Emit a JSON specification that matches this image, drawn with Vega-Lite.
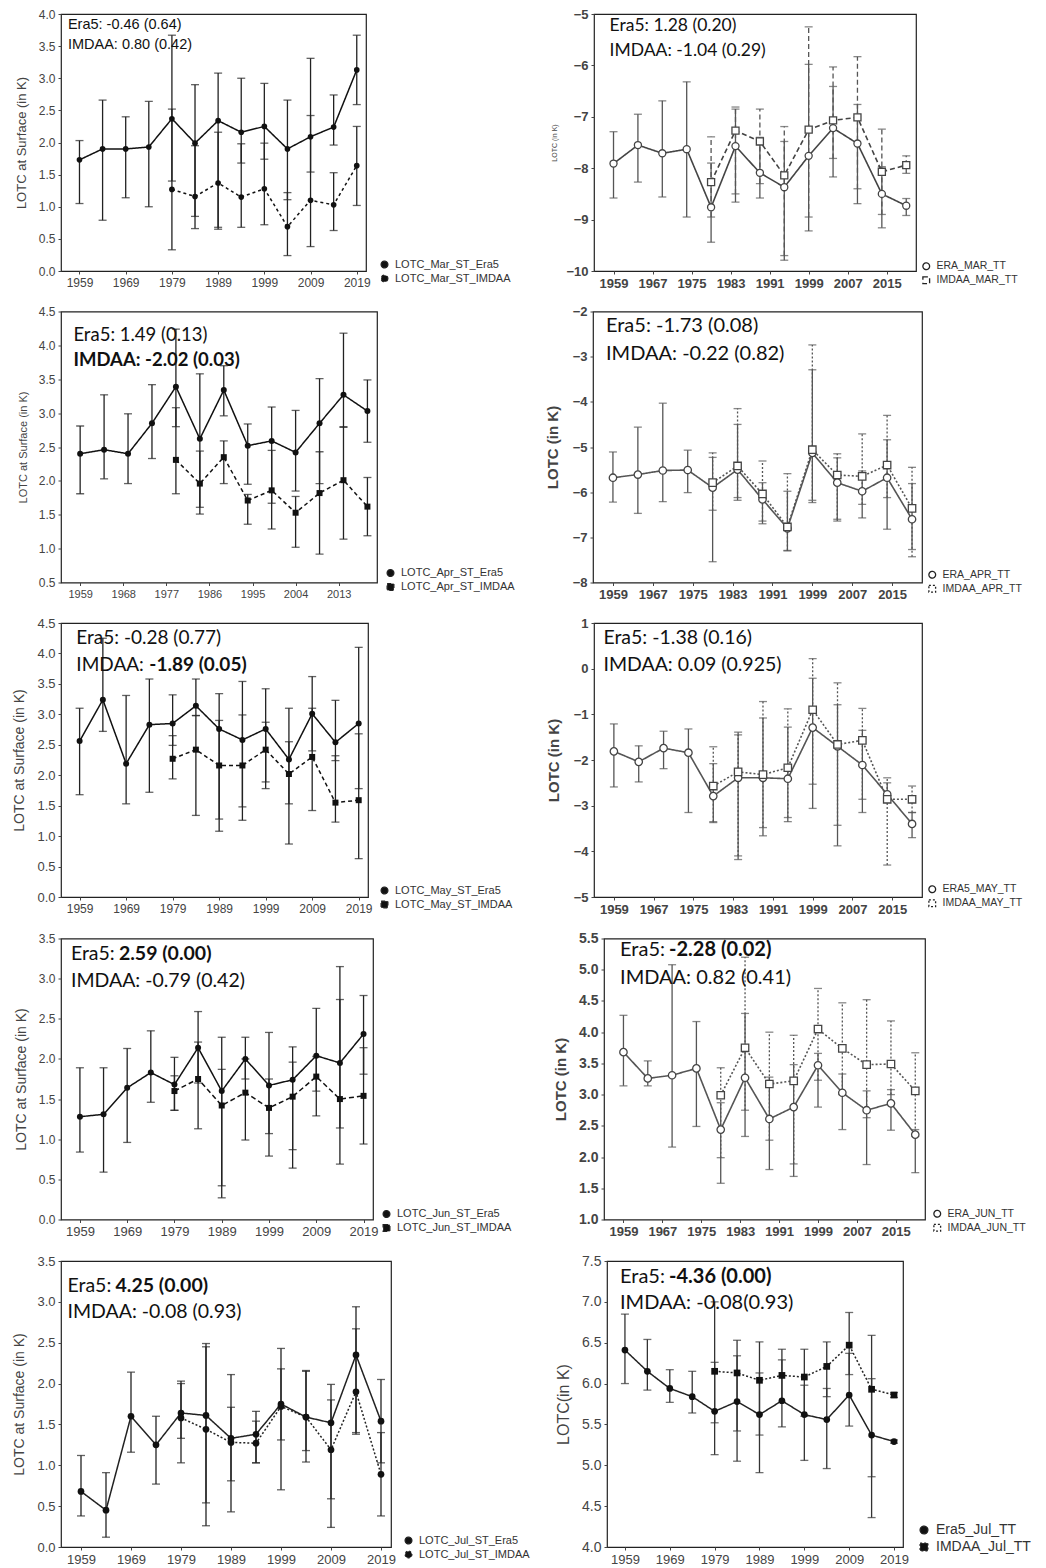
{
"$schema":"https://vega.github.io/schema/vega-lite/v6.json",
"background":"white",
"padding":{"left":12,"top":7,"right":0,"bottom":0},
"spacing":13.5,
"resolve":{"scale":{"strokeDash":"independent","shape":"independent"},"legend":{"strokeDash":"independent","shape":"independent"}},
"config":{
"view":{"stroke":"#222","strokeWidth":1.2},
"axis":{"grid":false,"domain":false,"ticks":true,"tickSize":3,"tickColor":"#444","labelFont":"Liberation Sans","labelFontSize":12,"labelColor":"#444","titleFont":"Liberation Sans","titleFontSize":13,"titleColor":"#444","titleFontWeight":"normal","labelPadding":3,"titlePadding":10},
"legend":{"labelFont":"Liberation Sans","labelFontSize":11,"labelColor":"#333","symbolSize":45,"symbolStrokeWidth":1.3,"symbolStrokeColor":"#222","rowPadding":1,"labelOffset":5,"padding":0}
},
"datasets":{
"MarST":[
{"yr":1959,"s":"Era5","m":1.73,"lo":1.05,"hi":2.03},{"yr":1964,"s":"Era5","m":1.90,"lo":0.79,"hi":2.66},{"yr":1969,"s":"Era5","m":1.90,"lo":1.14,"hi":2.40},{"yr":1974,"s":"Era5","m":1.93,"lo":1.00,"hi":2.64},{"yr":1979,"s":"Era5","m":2.37,"lo":1.40,"hi":3.67},{"yr":1984,"s":"Era5","m":1.99,"lo":0.85,"hi":2.90},{"yr":1989,"s":"Era5","m":2.34,"lo":0.65,"hi":3.08},{"yr":1994,"s":"Era5","m":2.16,"lo":1.68,"hi":3.00},{"yr":1999,"s":"Era5","m":2.25,"lo":1.74,"hi":2.92},{"yr":2004,"s":"Era5","m":1.90,"lo":1.11,"hi":2.66},{"yr":2009,"s":"Era5","m":2.09,"lo":1.54,"hi":3.31},{"yr":2014,"s":"Era5","m":2.24,"lo":1.96,"hi":2.74},{"yr":2019,"s":"Era5","m":3.13,"lo":2.59,"hi":3.67},
{"yr":1979,"s":"IMDAA","m":1.27,"lo":0.33,"hi":2.52},{"yr":1984,"s":"IMDAA","m":1.16,"lo":0.66,"hi":1.95},{"yr":1989,"s":"IMDAA","m":1.37,"lo":0.68,"hi":2.16},{"yr":1994,"s":"IMDAA","m":1.15,"lo":0.68,"hi":1.98},{"yr":1999,"s":"IMDAA","m":1.28,"lo":0.72,"hi":1.99},{"yr":2004,"s":"IMDAA","m":0.69,"lo":0.24,"hi":1.22},{"yr":2009,"s":"IMDAA","m":1.10,"lo":0.38,"hi":2.42},{"yr":2014,"s":"IMDAA","m":1.03,"lo":0.63,"hi":1.53},{"yr":2019,"s":"IMDAA","m":1.64,"lo":1.02,"hi":2.25}],
"MarTT":[
{"yr":1959,"s":"Era5","m":-7.91,"lo":-8.58,"hi":-7.29},{"yr":1964,"s":"Era5","m":-7.55,"lo":-8.27,"hi":-6.95},{"yr":1969,"s":"Era5","m":-7.71,"lo":-8.56,"hi":-6.69},{"yr":1974,"s":"Era5","m":-7.63,"lo":-8.95,"hi":-6.32},{"yr":1979,"s":"Era5","m":-8.76,"lo":-9.44,"hi":-7.90},{"yr":1984,"s":"Era5","m":-7.57,"lo":-8.66,"hi":-6.85},{"yr":1989,"s":"Era5","m":-8.09,"lo":-8.58,"hi":-7.40},{"yr":1994,"s":"Era5","m":-8.37,"lo":-9.79,"hi":-7.48},{"yr":1999,"s":"Era5","m":-7.76,"lo":-9.22,"hi":-5.98},{"yr":2004,"s":"Era5","m":-7.22,"lo":-8.17,"hi":-6.41},{"yr":2009,"s":"Era5","m":-7.52,"lo":-8.69,"hi":-6.76},{"yr":2014,"s":"Era5","m":-8.50,"lo":-9.16,"hi":-7.97},{"yr":2019,"s":"Era5","m":-8.73,"lo":-8.92,"hi":-8.59},
{"yr":1979,"s":"IMDAA","m":-8.27,"lo":-8.95,"hi":-7.39},{"yr":1984,"s":"IMDAA","m":-7.27,"lo":-8.50,"hi":-6.81},{"yr":1989,"s":"IMDAA","m":-7.48,"lo":-8.30,"hi":-6.85},{"yr":1994,"s":"IMDAA","m":-8.14,"lo":-9.70,"hi":-7.19},{"yr":1999,"s":"IMDAA","m":-7.25,"lo":-8.95,"hi":-5.25},{"yr":2004,"s":"IMDAA","m":-7.07,"lo":-7.81,"hi":-6.03},{"yr":2009,"s":"IMDAA","m":-7.01,"lo":-8.40,"hi":-5.83},{"yr":2014,"s":"IMDAA","m":-8.07,"lo":-8.90,"hi":-7.24},{"yr":2019,"s":"IMDAA","m":-7.94,"lo":-8.10,"hi":-7.76}],
"AprST":[
{"yr":1959,"s":"Era5","m":2.40,"lo":1.81,"hi":2.81},{"yr":1964,"s":"Era5","m":2.46,"lo":2.03,"hi":3.27},{"yr":1969,"s":"Era5","m":2.40,"lo":1.96,"hi":2.99},{"yr":1974,"s":"Era5","m":2.85,"lo":2.33,"hi":3.42},{"yr":1979,"s":"Era5","m":3.39,"lo":2.80,"hi":4.24},{"yr":1984,"s":"Era5","m":2.62,"lo":1.61,"hi":3.58},{"yr":1989,"s":"Era5","m":3.34,"lo":2.96,"hi":3.70},{"yr":1994,"s":"Era5","m":2.52,"lo":1.95,"hi":2.84},{"yr":1999,"s":"Era5","m":2.59,"lo":1.67,"hi":3.09},{"yr":2004,"s":"Era5","m":2.42,"lo":1.85,"hi":3.04},{"yr":2009,"s":"Era5","m":2.85,"lo":1.96,"hi":3.51},{"yr":2014,"s":"Era5","m":3.27,"lo":2.79,"hi":4.18},{"yr":2019,"s":"Era5","m":3.03,"lo":2.57,"hi":3.49},
{"yr":1979,"s":"IMDAA","m":2.31,"lo":1.81,"hi":3.08},{"yr":1984,"s":"IMDAA","m":1.96,"lo":1.51,"hi":2.44},{"yr":1989,"s":"IMDAA","m":2.35,"lo":1.96,"hi":2.59},{"yr":1994,"s":"IMDAA","m":1.71,"lo":1.36,"hi":1.80},{"yr":1999,"s":"IMDAA","m":1.86,"lo":1.29,"hi":2.45},{"yr":2004,"s":"IMDAA","m":1.53,"lo":1.02,"hi":1.77},{"yr":2009,"s":"IMDAA","m":1.82,"lo":0.92,"hi":2.43},{"yr":2014,"s":"IMDAA","m":2.01,"lo":1.14,"hi":2.80},{"yr":2019,"s":"IMDAA","m":1.62,"lo":1.19,"hi":2.05}],
"AprTT":[
{"yr":1959,"s":"Era5","m":-5.68,"lo":-6.22,"hi":-5.11},{"yr":1964,"s":"Era5","m":-5.61,"lo":-6.47,"hi":-4.56},{"yr":1969,"s":"Era5","m":-5.52,"lo":-6.21,"hi":-4.03},{"yr":1974,"s":"Era5","m":-5.51,"lo":-6.01,"hi":-5.07},{"yr":1979,"s":"Era5","m":-5.90,"lo":-7.54,"hi":-5.23},{"yr":1984,"s":"Era5","m":-5.50,"lo":-6.18,"hi":-4.50},{"yr":1989,"s":"Era5","m":-6.16,"lo":-6.70,"hi":-5.79},{"yr":1994,"s":"Era5","m":-6.80,"lo":-7.30,"hi":-5.98},{"yr":1999,"s":"Era5","m":-5.13,"lo":-6.18,"hi":-3.29},{"yr":2004,"s":"Era5","m":-5.79,"lo":-6.64,"hi":-5.24},{"yr":2009,"s":"Era5","m":-5.98,"lo":-6.57,"hi":-5.53},{"yr":2014,"s":"Era5","m":-5.68,"lo":-6.82,"hi":-4.84},{"yr":2019,"s":"Era5","m":-6.60,"lo":-7.27,"hi":-5.81},
{"yr":1979,"s":"IMDAA","m":-5.79,"lo":-6.40,"hi":-5.13},{"yr":1984,"s":"IMDAA","m":-5.42,"lo":-6.12,"hi":-4.15},{"yr":1989,"s":"IMDAA","m":-6.04,"lo":-6.64,"hi":-5.31},{"yr":1994,"s":"IMDAA","m":-6.77,"lo":-7.29,"hi":-5.59},{"yr":1999,"s":"IMDAA","m":-5.06,"lo":-6.23,"hi":-2.74},{"yr":2004,"s":"IMDAA","m":-5.62,"lo":-6.60,"hi":-5.15},{"yr":2009,"s":"IMDAA","m":-5.65,"lo":-6.27,"hi":-4.71},{"yr":2014,"s":"IMDAA","m":-5.40,"lo":-6.12,"hi":-4.30},{"yr":2019,"s":"IMDAA","m":-6.36,"lo":-7.43,"hi":-5.45}],
"MayST":[
{"yr":1959,"s":"Era5","m":2.56,"lo":1.68,"hi":3.10},{"yr":1964,"s":"Era5","m":3.24,"lo":2.72,"hi":4.25},{"yr":1969,"s":"Era5","m":2.19,"lo":1.53,"hi":3.31},{"yr":1974,"s":"Era5","m":2.83,"lo":1.72,"hi":3.58},{"yr":1979,"s":"Era5","m":2.85,"lo":2.49,"hi":3.32},{"yr":1984,"s":"Era5","m":3.14,"lo":2.98,"hi":3.58},{"yr":1989,"s":"Era5","m":2.76,"lo":1.28,"hi":3.34},{"yr":1994,"s":"Era5","m":2.58,"lo":1.48,"hi":3.54},{"yr":1999,"s":"Era5","m":2.76,"lo":1.89,"hi":3.42},{"yr":2004,"s":"Era5","m":2.26,"lo":1.53,"hi":3.10},{"yr":2009,"s":"Era5","m":3.01,"lo":2.40,"hi":3.62},{"yr":2014,"s":"Era5","m":2.54,"lo":2.24,"hi":3.23},{"yr":2019,"s":"Era5","m":2.85,"lo":1.78,"hi":4.10},
{"yr":1979,"s":"IMDAA","m":2.27,"lo":1.94,"hi":2.65},{"yr":1984,"s":"IMDAA","m":2.42,"lo":1.34,"hi":2.98},{"yr":1989,"s":"IMDAA","m":2.16,"lo":1.08,"hi":2.90},{"yr":1994,"s":"IMDAA","m":2.16,"lo":1.26,"hi":2.99},{"yr":1999,"s":"IMDAA","m":2.42,"lo":1.78,"hi":2.87},{"yr":2004,"s":"IMDAA","m":2.02,"lo":0.87,"hi":2.55},{"yr":2009,"s":"IMDAA","m":2.30,"lo":1.42,"hi":3.10},{"yr":2014,"s":"IMDAA","m":1.55,"lo":1.23,"hi":2.32},{"yr":2019,"s":"IMDAA","m":1.59,"lo":0.63,"hi":2.68}],
"MayTT":[
{"yr":1959,"s":"Era5","m":-1.81,"lo":-2.59,"hi":-1.21},{"yr":1964,"s":"Era5","m":-2.04,"lo":-2.48,"hi":-1.69},{"yr":1969,"s":"Era5","m":-1.74,"lo":-2.19,"hi":-1.37},{"yr":1974,"s":"Era5","m":-1.84,"lo":-3.15,"hi":-1.32},{"yr":1979,"s":"Era5","m":-2.79,"lo":-3.37,"hi":-2.08},{"yr":1984,"s":"Era5","m":-2.39,"lo":-4.18,"hi":-1.39},{"yr":1989,"s":"Era5","m":-2.39,"lo":-3.66,"hi":-1.08},{"yr":1994,"s":"Era5","m":-2.41,"lo":-3.35,"hi":-1.28},{"yr":1999,"s":"Era5","m":-1.29,"lo":-3.06,"hi":-0.21},{"yr":2004,"s":"Era5","m":-1.70,"lo":-3.88,"hi":-0.79},{"yr":2009,"s":"Era5","m":-2.11,"lo":-3.15,"hi":-1.35},{"yr":2014,"s":"Era5","m":-2.75,"lo":-2.86,"hi":-2.50},{"yr":2019,"s":"Era5","m":-3.40,"lo":-3.70,"hi":-3.15},
{"yr":1979,"s":"IMDAA","m":-2.57,"lo":-3.35,"hi":-1.71},{"yr":1984,"s":"IMDAA","m":-2.26,"lo":-4.10,"hi":-1.45},{"yr":1989,"s":"IMDAA","m":-2.32,"lo":-3.48,"hi":-0.72},{"yr":1994,"s":"IMDAA","m":-2.17,"lo":-3.26,"hi":-0.88},{"yr":1999,"s":"IMDAA","m":-0.90,"lo":-2.53,"hi":0.22},{"yr":2004,"s":"IMDAA","m":-1.66,"lo":-3.43,"hi":-0.31},{"yr":2009,"s":"IMDAA","m":-1.57,"lo":-2.86,"hi":-0.87},{"yr":2014,"s":"IMDAA","m":-2.86,"lo":-4.30,"hi":-2.39},{"yr":2019,"s":"IMDAA","m":-2.86,"lo":-3.15,"hi":-2.57}],
"JunST":[
{"yr":1959,"s":"Era5","m":1.28,"lo":0.84,"hi":1.89},{"yr":1964,"s":"Era5","m":1.31,"lo":0.59,"hi":1.89},{"yr":1969,"s":"Era5","m":1.64,"lo":0.96,"hi":2.13},{"yr":1974,"s":"Era5","m":1.83,"lo":1.46,"hi":2.35},{"yr":1979,"s":"Era5","m":1.68,"lo":1.36,"hi":2.02},{"yr":1984,"s":"Era5","m":2.14,"lo":1.70,"hi":2.59},{"yr":1989,"s":"Era5","m":1.60,"lo":0.42,"hi":2.27},{"yr":1994,"s":"Era5","m":2.00,"lo":1.75,"hi":2.27},{"yr":1999,"s":"Era5","m":1.67,"lo":1.07,"hi":2.33},{"yr":2004,"s":"Era5","m":1.74,"lo":0.87,"hi":2.15},{"yr":2009,"s":"Era5","m":2.04,"lo":1.60,"hi":2.63},{"yr":2014,"s":"Era5","m":1.95,"lo":1.14,"hi":3.15},{"yr":2019,"s":"Era5","m":2.31,"lo":1.81,"hi":2.79},
{"yr":1979,"s":"IMDAA","m":1.60,"lo":1.36,"hi":1.79},{"yr":1984,"s":"IMDAA","m":1.75,"lo":1.13,"hi":2.21},{"yr":1989,"s":"IMDAA","m":1.42,"lo":0.27,"hi":1.87},{"yr":1994,"s":"IMDAA","m":1.58,"lo":0.99,"hi":2.00},{"yr":1999,"s":"IMDAA","m":1.39,"lo":0.79,"hi":1.75},{"yr":2004,"s":"IMDAA","m":1.53,"lo":0.64,"hi":1.96},{"yr":2009,"s":"IMDAA","m":1.78,"lo":1.29,"hi":2.03},{"yr":2014,"s":"IMDAA","m":1.50,"lo":0.69,"hi":2.74},{"yr":2019,"s":"IMDAA","m":1.54,"lo":0.94,"hi":2.14}],
"JunTT":[
{"yr":1959,"s":"Era5","m":3.68,"lo":3.14,"hi":4.27},{"yr":1964,"s":"Era5","m":3.26,"lo":3.14,"hi":3.54},{"yr":1969,"s":"Era5","m":3.31,"lo":2.16,"hi":5.08},{"yr":1974,"s":"Era5","m":3.42,"lo":2.49,"hi":4.17},{"yr":1979,"s":"Era5","m":2.44,"lo":1.58,"hi":2.87},{"yr":1984,"s":"Era5","m":3.27,"lo":2.33,"hi":4.30},{"yr":1989,"s":"Era5","m":2.61,"lo":1.80,"hi":3.28},{"yr":1994,"s":"Era5","m":2.80,"lo":1.69,"hi":3.48},{"yr":1999,"s":"Era5","m":3.47,"lo":2.80,"hi":3.66},{"yr":2004,"s":"Era5","m":3.03,"lo":2.44,"hi":3.33},{"yr":2009,"s":"Era5","m":2.75,"lo":1.88,"hi":3.06},{"yr":2014,"s":"Era5","m":2.86,"lo":2.43,"hi":3.08},{"yr":2019,"s":"Era5","m":2.36,"lo":1.75,"hi":2.44},
{"yr":1979,"s":"IMDAA","m":2.99,"lo":1.99,"hi":3.43},{"yr":1984,"s":"IMDAA","m":3.75,"lo":2.75,"hi":5.20},{"yr":1989,"s":"IMDAA","m":3.17,"lo":2.27,"hi":4.00},{"yr":1994,"s":"IMDAA","m":3.22,"lo":1.89,"hi":3.95},{"yr":1999,"s":"IMDAA","m":4.05,"lo":3.23,"hi":4.70},{"yr":2004,"s":"IMDAA","m":3.74,"lo":3.00,"hi":4.47},{"yr":2009,"s":"IMDAA","m":3.48,"lo":2.63,"hi":4.52},{"yr":2014,"s":"IMDAA","m":3.49,"lo":3.00,"hi":4.18},{"yr":2019,"s":"IMDAA","m":3.06,"lo":2.33,"hi":3.67}],
"JulST":[
{"yr":1959,"s":"Era5","m":0.68,"lo":0.38,"hi":1.12},{"yr":1964,"s":"Era5","m":0.45,"lo":0.12,"hi":0.91},{"yr":1969,"s":"Era5","m":1.60,"lo":1.16,"hi":2.14},{"yr":1974,"s":"Era5","m":1.25,"lo":0.77,"hi":1.60},{"yr":1979,"s":"Era5","m":1.64,"lo":1.33,"hi":2.03},{"yr":1984,"s":"Era5","m":1.61,"lo":0.54,"hi":2.49},{"yr":1989,"s":"Era5","m":1.33,"lo":0.81,"hi":2.11},{"yr":1994,"s":"Era5","m":1.38,"lo":1.03,"hi":1.66},{"yr":1999,"s":"Era5","m":1.75,"lo":0.70,"hi":2.43},{"yr":2004,"s":"Era5","m":1.59,"lo":1.04,"hi":2.16},{"yr":2009,"s":"Era5","m":1.52,"lo":0.59,"hi":1.99},{"yr":2014,"s":"Era5","m":2.35,"lo":1.38,"hi":2.94},{"yr":2019,"s":"Era5","m":1.54,"lo":1.03,"hi":2.05},
{"yr":1979,"s":"IMDAA","m":1.58,"lo":1.03,"hi":2.00},{"yr":1984,"s":"IMDAA","m":1.44,"lo":0.26,"hi":2.45},{"yr":1989,"s":"IMDAA","m":1.28,"lo":0.43,"hi":1.71},{"yr":1994,"s":"IMDAA","m":1.27,"lo":1.03,"hi":1.54},{"yr":1999,"s":"IMDAA","m":1.72,"lo":1.31,"hi":2.18},{"yr":2004,"s":"IMDAA","m":1.59,"lo":1.18,"hi":2.15},{"yr":2009,"s":"IMDAA","m":1.19,"lo":0.24,"hi":1.80},{"yr":2014,"s":"IMDAA","m":1.90,"lo":1.40,"hi":2.67},{"yr":2019,"s":"IMDAA","m":0.89,"lo":0.38,"hi":1.40}],
"JulTT":[
{"yr":1959,"s":"Era5","m":6.41,"lo":6.00,"hi":6.85},{"yr":1964,"s":"Era5","m":6.15,"lo":5.92,"hi":6.54},{"yr":1969,"s":"Era5","m":5.94,"lo":5.77,"hi":6.17},{"yr":1974,"s":"Era5","m":5.84,"lo":5.64,"hi":6.15},{"yr":1979,"s":"Era5","m":5.66,"lo":5.13,"hi":6.26},{"yr":1984,"s":"Era5","m":5.78,"lo":5.05,"hi":6.34},{"yr":1989,"s":"Era5","m":5.62,"lo":4.91,"hi":6.13},{"yr":1994,"s":"Era5","m":5.79,"lo":5.47,"hi":6.29},{"yr":1999,"s":"Era5","m":5.62,"lo":5.06,"hi":5.98},{"yr":2004,"s":"Era5","m":5.56,"lo":4.96,"hi":5.94},{"yr":2009,"s":"Era5","m":5.86,"lo":5.48,"hi":6.37},{"yr":2014,"s":"Era5","m":5.37,"lo":4.36,"hi":6.06},{"yr":2019,"s":"Era5","m":5.29,"lo":5.27,"hi":5.31},
{"yr":1979,"s":"IMDAA","m":6.15,"lo":5.52,"hi":7.00},{"yr":1984,"s":"IMDAA","m":6.13,"lo":5.42,"hi":6.53},{"yr":1989,"s":"IMDAA","m":6.04,"lo":5.37,"hi":6.51},{"yr":1994,"s":"IMDAA","m":6.10,"lo":5.77,"hi":6.42},{"yr":1999,"s":"IMDAA","m":6.08,"lo":5.60,"hi":6.42},{"yr":2004,"s":"IMDAA","m":6.21,"lo":5.84,"hi":6.51},{"yr":2009,"s":"IMDAA","m":6.47,"lo":6.11,"hi":6.87},{"yr":2014,"s":"IMDAA","m":5.93,"lo":4.86,"hi":6.59},{"yr":2019,"s":"IMDAA","m":5.86,"lo":5.83,"hi":5.89}]
},
"vconcat":[
{"bounds":"flush","spacing":228,"resolve":{"scale":{"strokeDash":"independent","shape":"independent"},"legend":{"strokeDash":"independent","shape":"independent"}},"hconcat":[
{"width":305,"height":257,"data":{"name":"MarST"},
"encoding":{"x":{"field":"yr","type":"quantitative","title":null,"scale":{"domain":[1955,2021],"nice":false,"zero":false},"axis":{"values":[1959,1969,1979,1989,1999,2009,2019],"format":"d"}},
"y":{"field":"m","type":"quantitative","title":"LOTC at Surface (in K)","scale":{"domain":[0,4],"nice":false,"zero":false},"axis":{"values":[0,0.5,1,1.5,2,2.5,3,3.5,4],"format":".1f"}}},
"layer":[
{"mark":{"type":"rule","color":"#222","strokeWidth":1.3},"encoding":{"y":{"field":"lo","type":"quantitative","title":"LOTC at Surface (in K)"},"y2":{"field":"hi"}}},
{"mark":{"type":"tick","orient":"horizontal","size":8,"thickness":1.3,"color":"#222"},"encoding":{"y":{"field":"lo","type":"quantitative","title":"LOTC at Surface (in K)"}}},
{"mark":{"type":"tick","orient":"horizontal","size":8,"thickness":1.3,"color":"#222"},"encoding":{"y":{"field":"hi","type":"quantitative","title":"LOTC at Surface (in K)"}}},
{"mark":{"type":"line","color":"#111","strokeWidth":1.5},"encoding":{"strokeDash":{"field":"s","type":"nominal","title":null,"scale":{"domain":["Era5","IMDAA"],"range":[[1,0],[3,3]]},"legend":{"orient":"none","legendX":318,"legendY":245,"symbolFillColor":"#111","labelExpr":"datum.label=='Era5'?'LOTC_Mar_ST_Era5':'LOTC_Mar_ST_IMDAA'"}}}},
{"mark":{"type":"point","filled":true,"color":"#111","size":32,"opacity":1},"encoding":{"shape":{"field":"s","type":"nominal","scale":{"domain":["Era5","IMDAA"],"range":["circle","circle"]},"legend":null}}},
{"transform":[{"filter":"datum.yr==1959 && datum.s=='Era5'"}],"mark":{"type":"text","align":"left","baseline":"middle","font":"Liberation Sans","fontSize":14.5,"color":"#111"},"encoding":{"x":{"datum":1956.5,"type":"quantitative"},"y":{"datum":3.83,"type":"quantitative"},"text":{"value":"Era5: -0.46 (0.64)"}}},
{"transform":[{"filter":"datum.yr==1959 && datum.s=='Era5'"}],"mark":{"type":"text","align":"left","baseline":"middle","font":"Liberation Sans","fontSize":14.5,"color":"#111"},"encoding":{"x":{"datum":1956.5,"type":"quantitative"},"y":{"datum":3.51,"type":"quantitative"},"text":{"value":"IMDAA: 0.80 (0.42)"}}}
]},
{"width":322,"height":257,"data":{"name":"MarTT"},
"encoding":{"x":{"field":"yr","type":"quantitative","title":null,"scale":{"domain":[1955,2021],"nice":false,"zero":false},"axis":{"values":[1959,1967,1975,1983,1991,1999,2007,2015],"format":"d","labelFontSize":13,"labelFontWeight":"bold"}},
"y":{"field":"m","type":"quantitative","title":"LOTC (in K)","scale":{"domain":[-10,-5],"nice":false,"zero":false},"axis":{"values":[-10,-9,-8,-7,-6,-5],"format":"d","labelFontSize":13,"labelFontWeight":"bold","titleFontSize":7,"titlePadding":8}}},
"layer":[
{"mark":{"type":"rule","color":"#555","strokeWidth":1.3},"encoding":{"y":{"field":"lo","type":"quantitative","title":"LOTC (in K)"},"y2":{"field":"hi"},"strokeDash":{"field":"s","type":"nominal","title":null}}},
{"mark":{"type":"tick","orient":"horizontal","size":8,"thickness":1.3,"color":"#555"},"encoding":{"y":{"field":"lo","type":"quantitative","title":"LOTC (in K)"}}},
{"mark":{"type":"tick","orient":"horizontal","size":8,"thickness":1.3,"color":"#555"},"encoding":{"y":{"field":"hi","type":"quantitative","title":"LOTC (in K)"}}},
{"mark":{"type":"line","color":"#444","strokeWidth":1.6},"encoding":{"strokeDash":{"field":"s","type":"nominal","title":null,"scale":{"domain":["Era5","IMDAA"],"range":[[1,0],[5,3]]},"legend":{"orient":"none","legendX":327,"legendY":247,"labelFontSize":10.5,"symbolFillColor":"white","labelExpr":"datum.label=='Era5'?'ERA_MAR_TT':'IMDAA_MAR_TT'"}}}},
{"mark":{"type":"point","filled":true,"fill":"white","stroke":"#444","strokeWidth":1.3,"size":50,"opacity":1},"encoding":{"shape":{"field":"s","type":"nominal","scale":{"domain":["Era5","IMDAA"],"range":["circle","square"]},"legend":null}}},
{"transform":[{"filter":"datum.yr==1959 && datum.s=='Era5'"}],"mark":{"type":"text","align":"left","baseline":"middle","font":"Lato","fontSize":17.5,"color":"#111"},"encoding":{"x":{"datum":1958.2,"type":"quantitative"},"y":{"datum":-5.24,"type":"quantitative"},"text":{"value":"Era5: 1.28 (0.20)"}}},
{"transform":[{"filter":"datum.yr==1959 && datum.s=='Era5'"}],"mark":{"type":"text","align":"left","baseline":"middle","font":"Lato","fontSize":17.5,"color":"#111"},"encoding":{"x":{"datum":1958.2,"type":"quantitative"},"y":{"datum":-5.72,"type":"quantitative"},"text":{"value":"IMDAA: -1.04 (0.29)"}}}
]}
]},
{"bounds":"flush","spacing":216,"resolve":{"scale":{"strokeDash":"independent","shape":"independent"},"legend":{"strokeDash":"independent","shape":"independent"}},"hconcat":[
{"width":316,"height":271,"data":{"name":"AprST"},
"encoding":{"x":{"field":"yr","type":"quantitative","title":null,"scale":{"domain":[1955,2021],"nice":false,"zero":false},"axis":{"values":[1959,1968,1977,1986,1995,2004,2013],"format":"d","labelFontSize":11}},
"y":{"field":"m","type":"quantitative","title":"LOTC at Surface (in K)","scale":{"domain":[0.5,4.5],"nice":false,"zero":false},"axis":{"values":[0.5,1,1.5,2,2.5,3,3.5,4,4.5],"format":".1f","titleFontSize":11}}},
"layer":[
{"mark":{"type":"rule","color":"#222","strokeWidth":1.3},"encoding":{"y":{"field":"lo","type":"quantitative","title":"LOTC at Surface (in K)"},"y2":{"field":"hi"}}},
{"mark":{"type":"tick","orient":"horizontal","size":8,"thickness":1.3,"color":"#222"},"encoding":{"y":{"field":"lo","type":"quantitative","title":"LOTC at Surface (in K)"}}},
{"mark":{"type":"tick","orient":"horizontal","size":8,"thickness":1.3,"color":"#222"},"encoding":{"y":{"field":"hi","type":"quantitative","title":"LOTC at Surface (in K)"}}},
{"mark":{"type":"line","color":"#111","strokeWidth":1.5},"encoding":{"strokeDash":{"field":"s","type":"nominal","title":null,"scale":{"domain":["Era5","IMDAA"],"range":[[1,0],[4,3]]},"legend":{"orient":"none","legendX":324,"legendY":256,"symbolFillColor":"#111","labelExpr":"datum.label=='Era5'?'LOTC_Apr_ST_Era5':'LOTC_Apr_ST_IMDAA'"}}}},
{"mark":{"type":"point","filled":true,"color":"#111","size":36,"opacity":1},"encoding":{"shape":{"field":"s","type":"nominal","scale":{"domain":["Era5","IMDAA"],"range":["circle","square"]},"legend":null}}},
{"transform":[{"filter":"datum.yr==1959 && datum.s=='Era5'"}],"mark":{"type":"text","align":"left","baseline":"middle","font":"Lato","fontSize":18.5,"color":"#111"},"encoding":{"x":{"datum":1957.6,"type":"quantitative"},"y":{"datum":4.16,"type":"quantitative"},"text":{"value":"Era5: 1.49 (0.13)"}}},
{"transform":[{"filter":"datum.yr==1959 && datum.s=='Era5'"}],"mark":{"type":"text","align":"left","baseline":"middle","font":"Lato","fontSize":18.5,"fontWeight":"bold","color":"#111"},"encoding":{"x":{"datum":1957.6,"type":"quantitative"},"y":{"datum":3.78,"type":"quantitative"},"text":{"value":"IMDAA: -2.02 (0.03)"}}}
]},
{"width":329,"height":271,"data":{"name":"AprTT"},
"encoding":{"x":{"field":"yr","type":"quantitative","title":null,"scale":{"domain":[1955,2021],"nice":false,"zero":false},"axis":{"values":[1959,1967,1975,1983,1991,1999,2007,2015],"format":"d","labelFontSize":13,"labelFontWeight":"bold"}},
"y":{"field":"m","type":"quantitative","title":"LOTC (in K)","scale":{"domain":[-8,-2],"nice":false,"zero":false},"axis":{"values":[-8,-7,-6,-5,-4,-3,-2],"format":"d","labelFontSize":13,"labelFontWeight":"bold","titleFontSize":15,"titleFontWeight":"bold","titlePadding":12}}},
"layer":[
{"mark":{"type":"rule","color":"#555","strokeWidth":1.3},"encoding":{"y":{"field":"lo","type":"quantitative","title":"LOTC (in K)"},"y2":{"field":"hi"},"strokeDash":{"field":"s","type":"nominal","title":null}}},
{"mark":{"type":"tick","orient":"horizontal","size":8,"thickness":1.3,"color":"#555"},"encoding":{"y":{"field":"lo","type":"quantitative","title":"LOTC (in K)"}}},
{"mark":{"type":"tick","orient":"horizontal","size":8,"thickness":1.3,"color":"#555"},"encoding":{"y":{"field":"hi","type":"quantitative","title":"LOTC (in K)"}}},
{"mark":{"type":"line","color":"#555","strokeWidth":1.6},"encoding":{"strokeDash":{"field":"s","type":"nominal","title":null,"scale":{"domain":["Era5","IMDAA"],"range":[[1,0],[2,2]]},"legend":{"orient":"none","legendX":334,"legendY":258,"labelFontSize":10.5,"symbolFillColor":"white","labelExpr":"datum.label=='Era5'?'ERA_APR_TT':'IMDAA_APR_TT'"}}}},
{"mark":{"type":"point","filled":true,"fill":"white","stroke":"#444","strokeWidth":1.3,"size":55,"opacity":1},"encoding":{"shape":{"field":"s","type":"nominal","scale":{"domain":["Era5","IMDAA"],"range":["circle","square"]},"legend":null}}},
{"transform":[{"filter":"datum.yr==1959 && datum.s=='Era5'"}],"mark":{"type":"text","align":"left","baseline":"middle","font":"Lato","fontSize":20,"color":"#111"},"encoding":{"x":{"datum":1957.6,"type":"quantitative"},"y":{"datum":-2.33,"type":"quantitative"},"text":{"value":"Era5: -1.73 (0.08)"}}},
{"transform":[{"filter":"datum.yr==1959 && datum.s=='Era5'"}],"mark":{"type":"text","align":"left","baseline":"middle","font":"Lato","fontSize":20,"color":"#111"},"encoding":{"x":{"datum":1957.6,"type":"quantitative"},"y":{"datum":-2.94,"type":"quantitative"},"text":{"value":"IMDAA: -0.22 (0.82)"}}}
]}
]},
{"bounds":"flush","spacing":226,"resolve":{"scale":{"strokeDash":"independent","shape":"independent"},"legend":{"strokeDash":"independent","shape":"independent"}},"hconcat":[
{"width":307,"height":274,"data":{"name":"MayST"},
"encoding":{"x":{"field":"yr","type":"quantitative","title":null,"scale":{"domain":[1955,2021],"nice":false,"zero":false},"axis":{"values":[1959,1969,1979,1989,1999,2009,2019],"format":"d"}},
"y":{"field":"m","type":"quantitative","title":"LOTC at Surface (in K)","scale":{"domain":[0,4.5],"nice":false,"zero":false},"axis":{"values":[0,0.5,1,1.5,2,2.5,3,3.5,4,4.5],"format":".1f","titleFontSize":14,"labelFontSize":13}}},
"layer":[
{"mark":{"type":"rule","color":"#222","strokeWidth":1.3},"encoding":{"y":{"field":"lo","type":"quantitative","title":"LOTC at Surface (in K)"},"y2":{"field":"hi"}}},
{"mark":{"type":"tick","orient":"horizontal","size":8,"thickness":1.3,"color":"#222"},"encoding":{"y":{"field":"lo","type":"quantitative","title":"LOTC at Surface (in K)"}}},
{"mark":{"type":"tick","orient":"horizontal","size":8,"thickness":1.3,"color":"#222"},"encoding":{"y":{"field":"hi","type":"quantitative","title":"LOTC at Surface (in K)"}}},
{"mark":{"type":"line","color":"#111","strokeWidth":1.5},"encoding":{"strokeDash":{"field":"s","type":"nominal","title":null,"scale":{"domain":["Era5","IMDAA"],"range":[[1,0],[4,3]]},"legend":{"orient":"none","legendX":318,"legendY":262,"symbolFillColor":"#111","labelExpr":"datum.label=='Era5'?'LOTC_May_ST_Era5':'LOTC_May_ST_IMDAA'"}}}},
{"mark":{"type":"point","filled":true,"color":"#111","size":36,"opacity":1},"encoding":{"shape":{"field":"s","type":"nominal","scale":{"domain":["Era5","IMDAA"],"range":["circle","square"]},"legend":null}}},
{"transform":[{"filter":"datum.yr==1959 && datum.s=='Era5'"}],"mark":{"type":"text","align":"left","baseline":"middle","font":"Lato","fontSize":19,"color":"#111"},"encoding":{"x":{"datum":1958.3,"type":"quantitative"},"y":{"datum":4.25,"type":"quantitative"},"text":{"value":"Era5: -0.28 (0.77)"}}},
{"transform":[{"filter":"datum.yr==1959 && datum.s=='Era5'"}],"mark":{"type":"text","align":"left","baseline":"middle","font":"Lato","fontSize":19,"color":"#111"},"encoding":{"x":{"datum":1958.3,"type":"quantitative"},"y":{"datum":3.81,"type":"quantitative"},"text":{"value":"IMDAA:"}}},
{"transform":[{"filter":"datum.yr==1959 && datum.s=='Era5'"}],"mark":{"type":"text","align":"left","baseline":"middle","font":"Lato","fontSize":19,"fontWeight":"bold","color":"#111","dx":73},"encoding":{"x":{"datum":1958.3,"type":"quantitative"},"y":{"datum":3.81,"type":"quantitative"},"text":{"value":"-1.89 (0.05)"}}}
]},
{"width":328,"height":274,"data":{"name":"MayTT"},
"encoding":{"x":{"field":"yr","type":"quantitative","title":null,"scale":{"domain":[1955,2021],"nice":false,"zero":false},"axis":{"values":[1959,1967,1975,1983,1991,1999,2007,2015],"format":"d","labelFontSize":13,"labelFontWeight":"bold"}},
"y":{"field":"m","type":"quantitative","title":"LOTC (in K)","scale":{"domain":[-5,1],"nice":false,"zero":false},"axis":{"values":[-5,-4,-3,-2,-1,0,1],"format":"d","labelFontSize":13,"labelFontWeight":"bold","titleFontSize":15,"titleFontWeight":"bold","titlePadding":12}}},
"layer":[
{"mark":{"type":"rule","color":"#555","strokeWidth":1.3},"encoding":{"y":{"field":"lo","type":"quantitative","title":"LOTC (in K)"},"y2":{"field":"hi"},"strokeDash":{"field":"s","type":"nominal","title":null}}},
{"mark":{"type":"tick","orient":"horizontal","size":8,"thickness":1.3,"color":"#555"},"encoding":{"y":{"field":"lo","type":"quantitative","title":"LOTC (in K)"}}},
{"mark":{"type":"tick","orient":"horizontal","size":8,"thickness":1.3,"color":"#555"},"encoding":{"y":{"field":"hi","type":"quantitative","title":"LOTC (in K)"}}},
{"mark":{"type":"line","color":"#555","strokeWidth":1.6},"encoding":{"strokeDash":{"field":"s","type":"nominal","title":null,"scale":{"domain":["Era5","IMDAA"],"range":[[1,0],[2,2]]},"legend":{"orient":"none","legendX":333,"legendY":261,"labelFontSize":10.5,"symbolFillColor":"white","labelExpr":"datum.label=='Era5'?'ERA5_MAY_TT':'IMDAA_MAY_TT'"}}}},
{"mark":{"type":"point","filled":true,"fill":"white","stroke":"#444","strokeWidth":1.3,"size":55,"opacity":1},"encoding":{"shape":{"field":"s","type":"nominal","scale":{"domain":["Era5","IMDAA"],"range":["circle","square"]},"legend":null}}},
{"transform":[{"filter":"datum.yr==1959 && datum.s=='Era5'"}],"mark":{"type":"text","align":"left","baseline":"middle","font":"Lato","fontSize":19.5,"color":"#111"},"encoding":{"x":{"datum":1956.9,"type":"quantitative"},"y":{"datum":0.68,"type":"quantitative"},"text":{"value":"Era5: -1.38 (0.16)"}}},
{"transform":[{"filter":"datum.yr==1959 && datum.s=='Era5'"}],"mark":{"type":"text","align":"left","baseline":"middle","font":"Lato","fontSize":19.5,"color":"#111"},"encoding":{"x":{"datum":1956.9,"type":"quantitative"},"y":{"datum":0.09,"type":"quantitative"},"text":{"value":"IMDAA: 0.09 (0.925)"}}}
]}
]},
{"bounds":"flush","spacing":231,"resolve":{"scale":{"strokeDash":"independent","shape":"independent"},"legend":{"strokeDash":"independent","shape":"independent"}},"hconcat":[
{"width":312,"height":281,"data":{"name":"JunST"},
"encoding":{"x":{"field":"yr","type":"quantitative","title":null,"scale":{"domain":[1955,2021],"nice":false,"zero":false},"axis":{"values":[1959,1969,1979,1989,1999,2009,2019],"format":"d","labelFontSize":13}},
"y":{"field":"m","type":"quantitative","title":"LOTC at Surface (in K)","scale":{"domain":[0,3.5],"nice":false,"zero":false},"axis":{"values":[0,0.5,1,1.5,2,2.5,3,3.5],"format":".1f","titleFontSize":14,"labelFontSize":12}}},
"layer":[
{"mark":{"type":"rule","color":"#222","strokeWidth":1.3},"encoding":{"y":{"field":"lo","type":"quantitative","title":"LOTC at Surface (in K)"},"y2":{"field":"hi"}}},
{"mark":{"type":"tick","orient":"horizontal","size":8,"thickness":1.3,"color":"#222"},"encoding":{"y":{"field":"lo","type":"quantitative","title":"LOTC at Surface (in K)"}}},
{"mark":{"type":"tick","orient":"horizontal","size":8,"thickness":1.3,"color":"#222"},"encoding":{"y":{"field":"hi","type":"quantitative","title":"LOTC at Surface (in K)"}}},
{"mark":{"type":"line","color":"#111","strokeWidth":1.5},"encoding":{"strokeDash":{"field":"s","type":"nominal","title":null,"scale":{"domain":["Era5","IMDAA"],"range":[[1,0],[5,3]]},"legend":{"orient":"none","legendX":320,"legendY":270,"symbolFillColor":"#111","labelExpr":"datum.label=='Era5'?'LOTC_Jun_ST_Era5':'LOTC_Jun_ST_IMDAA'"}}}},
{"mark":{"type":"point","filled":true,"color":"#111","size":36,"opacity":1},"encoding":{"shape":{"field":"s","type":"nominal","scale":{"domain":["Era5","IMDAA"],"range":["circle","square"]},"legend":null}}},
{"transform":[{"filter":"datum.yr==1959 && datum.s=='Era5'"}],"mark":{"type":"text","align":"left","baseline":"middle","font":"Lato","fontSize":19.5,"color":"#111"},"encoding":{"x":{"datum":1957.1,"type":"quantitative"},"y":{"datum":3.31,"type":"quantitative"},"text":{"value":"Era5:"}}},
{"transform":[{"filter":"datum.yr==1959 && datum.s=='Era5'"}],"mark":{"type":"text","align":"left","baseline":"middle","font":"Lato","fontSize":19.5,"fontWeight":"bold","color":"#111","dx":48},"encoding":{"x":{"datum":1957.1,"type":"quantitative"},"y":{"datum":3.31,"type":"quantitative"},"text":{"value":"2.59 (0.00)"}}},
{"transform":[{"filter":"datum.yr==1959 && datum.s=='Era5'"}],"mark":{"type":"text","align":"left","baseline":"middle","font":"Lato","fontSize":19.5,"color":"#111"},"encoding":{"x":{"datum":1957.1,"type":"quantitative"},"y":{"datum":2.97,"type":"quantitative"},"text":{"value":"IMDAA: -0.79 (0.42)"}}}
]},
{"width":321,"height":281,"data":{"name":"JunTT"},
"encoding":{"x":{"field":"yr","type":"quantitative","title":null,"scale":{"domain":[1955,2021],"nice":false,"zero":false},"axis":{"values":[1959,1967,1975,1983,1991,1999,2007,2015],"format":"d","labelFontSize":13,"labelFontWeight":"bold"}},
"y":{"field":"m","type":"quantitative","title":"LOTC (in K)","scale":{"domain":[1,5.5],"nice":false,"zero":false},"axis":{"values":[1,1.5,2,2.5,3,3.5,4,4.5,5,5.5],"format":".1f","labelFontSize":14,"labelFontWeight":"bold","titleFontSize":15,"titleFontWeight":"bold","titlePadding":10}}},
"layer":[
{"mark":{"type":"rule","color":"#555","strokeWidth":1.3},"encoding":{"y":{"field":"lo","type":"quantitative","title":"LOTC (in K)"},"y2":{"field":"hi"},"strokeDash":{"field":"s","type":"nominal","title":null}}},
{"mark":{"type":"tick","orient":"horizontal","size":8,"thickness":1.3,"color":"#555"},"encoding":{"y":{"field":"lo","type":"quantitative","title":"LOTC (in K)"}}},
{"mark":{"type":"tick","orient":"horizontal","size":8,"thickness":1.3,"color":"#555"},"encoding":{"y":{"field":"hi","type":"quantitative","title":"LOTC (in K)"}}},
{"mark":{"type":"line","color":"#555","strokeWidth":1.6},"encoding":{"strokeDash":{"field":"s","type":"nominal","title":null,"scale":{"domain":["Era5","IMDAA"],"range":[[1,0],[2,2]]},"legend":{"orient":"none","legendX":328,"legendY":270,"labelFontSize":10.5,"symbolFillColor":"white","labelExpr":"datum.label=='Era5'?'ERA_JUN_TT':'IMDAA_JUN_TT'"}}}},
{"mark":{"type":"point","filled":true,"fill":"white","stroke":"#444","strokeWidth":1.3,"size":55,"opacity":1},"encoding":{"shape":{"field":"s","type":"nominal","scale":{"domain":["Era5","IMDAA"],"range":["circle","square"]},"legend":null}}},
{"transform":[{"filter":"datum.yr==1959 && datum.s=='Era5'"}],"mark":{"type":"text","align":"left","baseline":"middle","font":"Lato","fontSize":20,"color":"#111"},"encoding":{"x":{"datum":1958.3,"type":"quantitative"},"y":{"datum":5.31,"type":"quantitative"},"text":{"value":"Era5:"}}},
{"transform":[{"filter":"datum.yr==1959 && datum.s=='Era5'"}],"mark":{"type":"text","align":"left","baseline":"middle","font":"Lato","fontSize":20,"fontWeight":"bold","color":"#111","dx":49},"encoding":{"x":{"datum":1958.3,"type":"quantitative"},"y":{"datum":5.31,"type":"quantitative"},"text":{"value":"-2.28 (0.02)"}}},
{"transform":[{"filter":"datum.yr==1959 && datum.s=='Era5'"}],"mark":{"type":"text","align":"left","baseline":"middle","font":"Lato","fontSize":20,"color":"#111"},"encoding":{"x":{"datum":1958.3,"type":"quantitative"},"y":{"datum":4.87,"type":"quantitative"},"text":{"value":"IMDAA: 0.82 (0.41)"}}}
]}
]},
{"bounds":"flush","spacing":216,"resolve":{"scale":{"strokeDash":"independent","shape":"independent"},"legend":{"strokeDash":"independent","shape":"independent"}},"hconcat":[
{"width":330,"height":286,"data":{"name":"JulST"},
"encoding":{"x":{"field":"yr","type":"quantitative","title":null,"scale":{"domain":[1955,2021],"nice":false,"zero":false},"axis":{"values":[1959,1969,1979,1989,1999,2009,2019],"format":"d","labelFontSize":13}},
"y":{"field":"m","type":"quantitative","title":"LOTC at Surface (in K)","scale":{"domain":[0,3.5],"nice":false,"zero":false},"axis":{"values":[0,0.5,1,1.5,2,2.5,3,3.5],"format":".1f","titleFontSize":14,"labelFontSize":13}}},
"layer":[
{"mark":{"type":"rule","color":"#222","strokeWidth":1.3},"encoding":{"y":{"field":"lo","type":"quantitative","title":"LOTC at Surface (in K)"},"y2":{"field":"hi"}}},
{"mark":{"type":"tick","orient":"horizontal","size":8,"thickness":1.3,"color":"#222"},"encoding":{"y":{"field":"lo","type":"quantitative","title":"LOTC at Surface (in K)"}}},
{"mark":{"type":"tick","orient":"horizontal","size":8,"thickness":1.3,"color":"#222"},"encoding":{"y":{"field":"hi","type":"quantitative","title":"LOTC at Surface (in K)"}}},
{"mark":{"type":"line","color":"#222","strokeWidth":1.5},"encoding":{"strokeDash":{"field":"s","type":"nominal","title":null,"scale":{"domain":["Era5","IMDAA"],"range":[[1,0],[2,2]]},"legend":{"orient":"none","legendX":342,"legendY":274,"symbolFillColor":"#111","labelExpr":"datum.label=='Era5'?'LOTC_Jul_ST_Era5':'LOTC_Jul_ST_IMDAA'"}}}},
{"mark":{"type":"point","filled":true,"color":"#111","size":45,"opacity":1},"encoding":{"shape":{"field":"s","type":"nominal","scale":{"domain":["Era5","IMDAA"],"range":["circle","circle"]},"legend":null}}},
{"transform":[{"filter":"datum.yr==1959 && datum.s=='Era5'"}],"mark":{"type":"text","align":"left","baseline":"middle","font":"Lato","fontSize":19.5,"color":"#111"},"encoding":{"x":{"datum":1956.3,"type":"quantitative"},"y":{"datum":3.2,"type":"quantitative"},"text":{"value":"Era5:"}}},
{"transform":[{"filter":"datum.yr==1959 && datum.s=='Era5'"}],"mark":{"type":"text","align":"left","baseline":"middle","font":"Lato","fontSize":19.5,"fontWeight":"bold","color":"#111","dx":48},"encoding":{"x":{"datum":1956.3,"type":"quantitative"},"y":{"datum":3.2,"type":"quantitative"},"text":{"value":"4.25 (0.00)"}}},
{"transform":[{"filter":"datum.yr==1959 && datum.s=='Era5'"}],"mark":{"type":"text","align":"left","baseline":"middle","font":"Lato","fontSize":19.5,"color":"#111"},"encoding":{"x":{"datum":1956.3,"type":"quantitative"},"y":{"datum":2.87,"type":"quantitative"},"text":{"value":"IMDAA: -0.08 (0.93)"}}}
]},
{"width":296,"height":286,"data":{"name":"JulTT"},
"encoding":{"x":{"field":"yr","type":"quantitative","title":null,"scale":{"domain":[1955,2021],"nice":false,"zero":false},"axis":{"values":[1959,1969,1979,1989,1999,2009,2019],"format":"d","labelFontSize":13}},
"y":{"field":"m","type":"quantitative","title":"LOTC(in K)","scale":{"domain":[4,7.5],"nice":false,"zero":false},"axis":{"values":[4,4.5,5,5.5,6,6.5,7,7.5],"format":".1f","labelFontSize":14,"titleFontSize":16,"titlePadding":10}}},
"layer":[
{"mark":{"type":"rule","color":"#333","strokeWidth":1.3},"encoding":{"y":{"field":"lo","type":"quantitative","title":"LOTC(in K)"},"y2":{"field":"hi"}}},
{"mark":{"type":"tick","orient":"horizontal","size":8,"thickness":1.3,"color":"#333"},"encoding":{"y":{"field":"lo","type":"quantitative","title":"LOTC(in K)"}}},
{"mark":{"type":"tick","orient":"horizontal","size":8,"thickness":1.3,"color":"#333"},"encoding":{"y":{"field":"hi","type":"quantitative","title":"LOTC(in K)"}}},
{"mark":{"type":"line","color":"#222","strokeWidth":1.5},"encoding":{"strokeDash":{"field":"s","type":"nominal","title":null,"scale":{"domain":["Era5","IMDAA"],"range":[[1,0],[2,2]]},"legend":{"orient":"none","legendX":310,"legendY":262,"labelFontSize":14,"symbolSize":60,"rowPadding":3,"symbolFillColor":"#111","labelExpr":"datum.label=='Era5'?'Era5_Jul_TT':'IMDAA_Jul_TT'"}}}},
{"mark":{"type":"point","filled":true,"color":"#111","size":45,"opacity":1},"encoding":{"shape":{"field":"s","type":"nominal","scale":{"domain":["Era5","IMDAA"],"range":["circle","square"]},"legend":null}}},
{"transform":[{"filter":"datum.yr==1959 && datum.s=='Era5'"}],"mark":{"type":"text","align":"left","baseline":"middle","font":"Lato","fontSize":20,"color":"#111"},"encoding":{"x":{"datum":1957.9,"type":"quantitative"},"y":{"datum":7.31,"type":"quantitative"},"text":{"value":"Era5:"}}},
{"transform":[{"filter":"datum.yr==1959 && datum.s=='Era5'"}],"mark":{"type":"text","align":"left","baseline":"middle","font":"Lato","fontSize":20,"fontWeight":"bold","color":"#111","dx":49},"encoding":{"x":{"datum":1957.9,"type":"quantitative"},"y":{"datum":7.31,"type":"quantitative"},"text":{"value":"-4.36 (0.00)"}}},
{"transform":[{"filter":"datum.yr==1959 && datum.s=='Era5'"}],"mark":{"type":"text","align":"left","baseline":"middle","font":"Lato","fontSize":20,"color":"#111"},"encoding":{"x":{"datum":1957.9,"type":"quantitative"},"y":{"datum":6.98,"type":"quantitative"},"text":{"value":"IMDAA: -0.08(0.93)"}}}
]}
]}
]
}
